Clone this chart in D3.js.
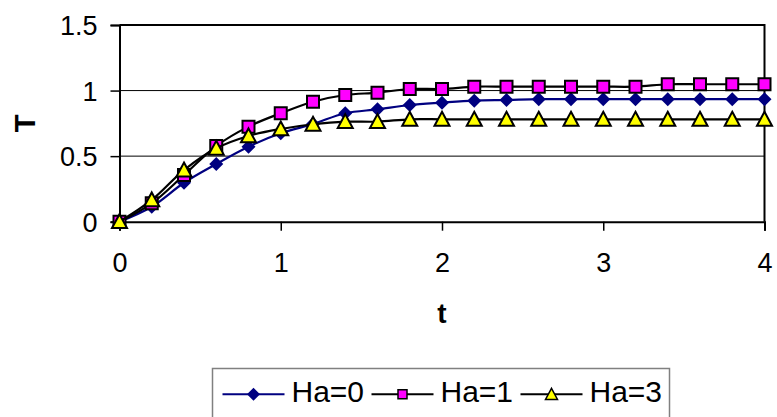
<!DOCTYPE html>
<html>
<head>
<meta charset="utf-8">
<script src="https://cdn.jsdelivr.net/npm/d3@7"></script>
<style>
  html, body { margin: 0; padding: 0; background: #fff; }
  svg { display: block; }
</style>
</head>
<body>
<div id="chart"></div>
<script>
const FONT = "Liberation Sans, Arial, sans-serif";
const COLOR_HA0 = "#000080";
const COLOR_HA1 = "#FF00FF";
const COLOR_HA3 = "#FFFF00";

// data
const tValues = [0, 0.2, 0.4, 0.6, 0.8, 1.0, 1.2, 1.4, 1.6, 1.8, 2.0,
                 2.2, 2.4, 2.6, 2.8, 3.0, 3.2, 3.4, 3.6, 3.8, 4.0];
const ha0 = [0, 0.114, 0.297, 0.44, 0.572, 0.674, 0.745, 0.827, 0.857, 0.89, 0.908,
             0.923, 0.928, 0.934, 0.934, 0.934, 0.934, 0.934, 0.934, 0.934, 0.934];
const ha1 = [0, 0.14, 0.356, 0.577, 0.725, 0.827, 0.915, 0.966, 0.984, 1.012, 1.012,
             1.03, 1.03, 1.03, 1.03, 1.03, 1.03, 1.048, 1.048, 1.048, 1.048];
const ha3 = [0, 0.166, 0.394, 0.56, 0.654, 0.707, 0.743, 0.763, 0.763, 0.781, 0.781,
             0.781, 0.781, 0.781, 0.781, 0.781, 0.781, 0.781, 0.781, 0.781, 0.781];
const seriesNames = ["Ha=0", "Ha=1", "Ha=3"];
const xTicks = [0, 1, 2, 3, 4];
const yTicks = [0, 0.5, 1, 1.5];

const W = 777, H = 417;
const plot = { left: 119.5, right: 764.5, top: 25, bottom: 221.7 };

const svg = d3.select("#chart").append("svg")
    .attr("width", W).attr("height", H)
    .attr("font-family", FONT);

const x = d3.scaleLinear().domain([0, 4]).range([plot.left, plot.right]);
const y = d3.scaleLinear().domain([0, 1.5]).range([plot.bottom, plot.top]);

// gridlines
svg.append("g").selectAll("line")
    .data(yTicks.filter(d => d > 0 && d < 1.5)).enter().append("line")
    .attr("x1", plot.left).attr("x2", plot.right)
    .attr("y1", d => y(d)).attr("y2", d => y(d))
    .attr("stroke", "#000").attr("stroke-width", 1);

// plot border (top / right)
svg.append("path")
    .attr("d", `M${plot.left},${plot.top}H${plot.right}V${plot.bottom}`)
    .attr("fill", "none").attr("stroke", "#000").attr("stroke-width", 2);

// y axis
svg.append("g")
    .attr("transform", `translate(${plot.left},0)`)
    .call(d3.axisLeft(y).tickValues(yTicks).tickSize(9).tickPadding(13)
        .tickFormat(d => d))
    .call(g => {
        g.select(".domain").attr("stroke", "#000").attr("stroke-width", 2);
        g.selectAll(".tick line").attr("stroke", "#000").attr("stroke-width", 1.5);
        g.selectAll("text").attr("font-size", "27px").attr("font-family", FONT)
            .attr("fill", "#000").attr("dy", "0.35em");
    });

// x axis
svg.append("g")
    .attr("transform", `translate(0,${plot.bottom})`)
    .call(d3.axisBottom(x).tickValues(xTicks).tickSize(9).tickPadding(0)
        .tickFormat(d3.format("d")))
    .call(g => {
        g.select(".domain").attr("stroke", "#000").attr("stroke-width", 2);
        g.selectAll(".tick line").attr("stroke", "#000").attr("stroke-width", 1.5);
        g.selectAll("text").attr("font-size", "27px").attr("font-family", FONT)
            .attr("fill", "#000").attr("dy", null).attr("y", 50);
    });

// axis titles
svg.append("text")
    .attr("x", (plot.left + plot.right) / 2).attr("y", 323)
    .attr("text-anchor", "middle").attr("font-size", "28px").attr("font-weight", "bold")
    .text("t");
svg.append("text")
    .attr("transform", `translate(35,${(plot.top + plot.bottom) / 2}) rotate(-90)`)
    .attr("text-anchor", "middle").attr("font-size", "29px").attr("font-weight", "bold")
    .text("T");

const series = [
    { name: seriesNames[0], values: ha0, line: COLOR_HA0, fill: COLOR_HA0, stroke: "none", shape: "diamond" },
    { name: seriesNames[1], values: ha1, line: "#000", fill: COLOR_HA1, stroke: "#000", shape: "square" },
    { name: seriesNames[2], values: ha3, line: "#000", fill: COLOR_HA3, stroke: "#000", shape: "triangle" }
];

function markerPath(shape, s) {
    if (shape === "diamond") return `M0,${-s}L${s},0L0,${s}L${-s},0Z`;
    if (shape === "square") return `M${-s},${-s}H${s}V${s}H${-s}Z`;
    return `M0,${-s}L${s},${s * 0.85}L${-s},${s * 0.85}Z`;
}
const plotSize = { diamond: 7, square: 6, triangle: 7.5 };
const legendSize = { diamond: 6.5, square: 4.5, triangle: 6 };

const line = d3.line()
    .x((d, i) => x(tValues[i]))
    .y(d => y(d))
    .curve(d3.curveCatmullRom.alpha(0.5));

series.forEach(s => {
    const g = svg.append("g");
    g.append("path")
        .attr("d", line(s.values))
        .attr("fill", "none").attr("stroke", s.line).attr("stroke-width", 2.2);
    g.selectAll("path.m").data(s.values).enter().append("path")
        .attr("class", "m")
        .attr("transform", (d, i) => `translate(${x(tValues[i])},${y(d)})`)
        .attr("d", markerPath(s.shape, plotSize[s.shape]))
        .attr("fill", s.fill).attr("stroke", s.stroke).attr("stroke-width", 2);
});

// legend
const legend = svg.append("g");
legend.append("rect")
    .attr("x", 212.5).attr("y", 368.5).attr("width", 457).attr("height", 70)
    .attr("fill", "#fff").attr("stroke", "#808080").attr("stroke-width", 1.5);
const legendX = [222.5, 371.5, 520.5];
series.forEach((s, i) => {
    const lx = legendX[i], ly = 394.3;
    legend.append("line")
        .attr("x1", lx).attr("x2", lx + 62).attr("y1", ly).attr("y2", ly)
        .attr("stroke", s.line).attr("stroke-width", 2);
    legend.append("path")
        .attr("transform", `translate(${lx + 31},${ly})`)
        .attr("d", markerPath(s.shape, legendSize[s.shape]))
        .attr("fill", s.fill).attr("stroke", s.stroke).attr("stroke-width", 1.5);
    legend.append("text")
        .attr("x", lx + 69).attr("y", 401.7)
        .attr("font-size", "30px").attr("fill", "#000")
        .text(s.name);
});
</script>
</body>
</html>
